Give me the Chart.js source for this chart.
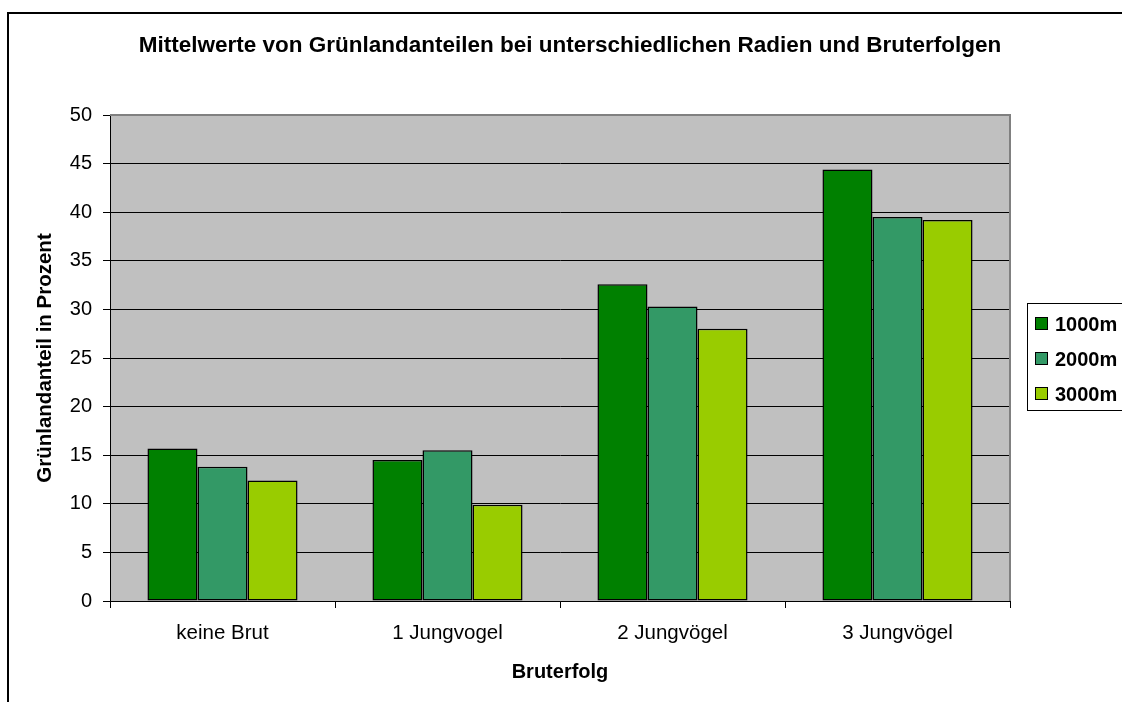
<!DOCTYPE html>
<html>
<head>
<meta charset="utf-8">
<script src="https://cdn.jsdelivr.net/npm/chart.js@4"></script>
<style>
    html, body { margin: 0; padding: 0; background: #fff; overflow: hidden; }
    #frame { position: absolute; left: 7px; top: 12px; width: 1300px; height: 900px; border: 2px solid #000; }
    #wrap { position: absolute; left: 0; top: 0; width: 1122px; height: 702px; }
</style>
</head>
<body>
<div id="frame"></div>
<div id="wrap"><canvas id="chart"></canvas></div>
<script>
// DATA
const CATEGORIES = ['keine Brut', '1 Jungvogel', '2 Jungvögel', '3 Jungvögel'];
const SERIES_LABELS = ['1000m', '2000m', '3000m'];
const VALUES_1000 = [15.7, 14.5, 32.6, 44.4];
const VALUES_2000 = [13.8, 15.5, 30.3, 39.5];
const VALUES_3000 = [12.4, 9.9, 28.0, 39.2];
const COLORS = ['#008000', '#339966', '#99CC00'];
const TITLE = 'Mittelwerte von Grünlandanteilen bei unterschiedlichen Radien und Bruterfolgen';

const FONT = '"Liberation Sans", Arial, sans-serif';
Chart.defaults.font.family = FONT;
Chart.defaults.color = '#000';

// Plot background, gray frame, title and legend
const decor = {
    id: 'decor',
    beforeDraw(chart) {
        const { ctx, chartArea: a } = chart;
        ctx.save();
        ctx.fillStyle = '#C0C0C0';
        ctx.fillRect(a.left, a.top, a.right - a.left, a.bottom - a.top);
        ctx.restore();
    },
    afterDatasetsDraw(chart) {
        const { ctx, chartArea: a } = chart;
        ctx.save();
        ctx.strokeStyle = '#808080';
        ctx.lineWidth = 2;
        ctx.beginPath();
        ctx.moveTo(a.left, a.top);
        ctx.lineTo(a.right, a.top);
        ctx.lineTo(a.right, a.bottom);
        ctx.stroke();
        ctx.restore();
    },
    afterDraw(chart) {
        const { ctx } = chart;
        ctx.save();
        // title
        ctx.fillStyle = '#000';
        ctx.font = `bold 22.5px ${FONT}`;
        ctx.textAlign = 'center';
        ctx.textBaseline = 'middle';
        ctx.fillText(TITLE, 570, 46);

        // legend
        ctx.fillStyle = '#fff';
        ctx.fillRect(1027.5, 303.5, 120, 107);
        ctx.strokeStyle = '#000';
        ctx.lineWidth = 1;
        ctx.strokeRect(1027.5, 303.5, 120, 107);
        ctx.font = `bold 20px ${FONT}`;
        ctx.textAlign = 'left';
        chart.data.datasets.forEach((ds, i) => {
            const cy = 324 + i * 35;
            ctx.fillStyle = ds.backgroundColor;
            ctx.fillRect(1035.5, cy - 6.5, 12, 12);
            ctx.strokeRect(1035.5, cy - 6.5, 12, 12);
            ctx.fillStyle = '#000';
            ctx.fillText(ds.label, 1055, cy + 1);
        });
        ctx.restore();
    }
};

const datasets = [VALUES_1000, VALUES_2000, VALUES_3000].map((vals, i) => ({
    label: SERIES_LABELS[i],
    data: vals,
    backgroundColor: COLORS[i],
    borderColor: '#000',
    borderWidth: 1.5,
    borderSkipped: false,
    categoryPercentage: 0.667,
    barPercentage: 1
}));

new Chart(document.getElementById('chart'), {
    type: 'bar',
    data: { labels: CATEGORIES, datasets },
    options: {
        responsive: true,
        maintainAspectRatio: false,
        animation: false,
        layout: { padding: { top: 115, right: 112, left: 0, bottom: 0 } },
        plugins: {
            legend: { display: false },
            title: { display: false },
            tooltip: { enabled: false }
        },
        scales: {
            x: {
                afterFit: s => { s.height = 101; },
                grid: { drawOnChartArea: false, drawTicks: true, tickLength: 7, tickColor: '#000', offset: true },
                border: { display: true, color: '#000', width: 1 },
                ticks: { font: { size: 20.5 }, padding: 13, color: '#000' },
                title: { display: true, text: 'Bruterfolg', font: { size: 20, weight: 'bold' }, padding: { top: 0, bottom: 18 }, color: '#000' }
            },
            y: {
                min: 0,
                max: 50,
                afterFit: s => { s.width = 110; },
                grid: {
                    color: c => (c.tick && c.tick.value === 50 ? 'rgba(0,0,0,0)' : '#000'),
                    tickColor: '#000',
                    lineWidth: 1,
                    tickLength: 7,
                    drawTicks: true
                },
                border: { display: true, color: '#000', width: 1 },
                ticks: { stepSize: 5, font: { size: 20 }, padding: 11, color: '#000' },
                title: { display: true, text: 'Grünlandanteil in Prozent', font: { size: 20.5, weight: 'bold' }, padding: { top: 33, bottom: 0 }, color: '#000' }
            }
        }
    },
    plugins: [decor]
});
</script>
</body>
</html>
